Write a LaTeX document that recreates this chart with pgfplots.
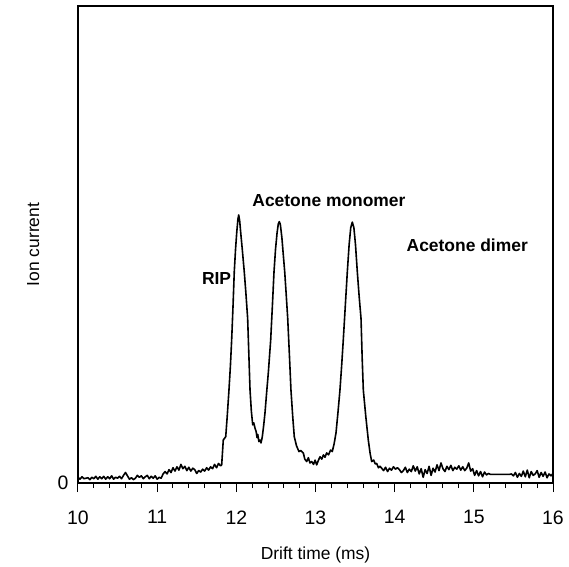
\documentclass[border=0pt]{standalone}
\usepackage{fontspec}
\setmainfont{Liberation Sans}
\usepackage{pgfplots}
\pgfplotsset{compat=1.18}
\begin{document}
\begin{tikzpicture}
\useasboundingbox (-78bp,-84bp) rectangle (491bp,483bp);
\begin{axis}[
  at={(0,0)}, anchor=south west,
  scale only axis, width=475bp, height=477bp,
  xmin=10, xmax=16, ymin=0, ymax=100,
  xtick={10,11,12,13,14,15,16},
  minor x tick num=4,
  ytick={0},
  xtick pos=bottom, ytick pos=left,
  tick align=outside,
  major tick length=9bp, minor tick length=5bp,
  x tick style={black, line width=1bp},
  y tick style={draw=none},
  axis line style={line width=1.1bp},
  /pgf/number format/assume math mode=true,
  tick label style={font=\fontsize{19.5}{22}\selectfont},
  yticklabel style={xshift=3bp},
  xticklabel style={yshift=-15bp},
  xlabel={Drift time (ms)},
  ylabel={Ion current},
  label style={font=\fontsize{17.5}{20}\selectfont},
  xlabel style={at={(axis description cs:0.5,-0.151)}, anchor=center},
  ylabel style={at={(axis description cs:-0.0945,0.5)}, anchor=center, rotate=0},
  clip=false,
]
\addplot[black, line width=1.6bp, line join=round] coordinates {
(10.000,1.2)(10.025,0.8)(10.050,1.3)(10.075,0.9)(10.100,1.0)(10.125,1.1)(10.150,0.7)(10.175,1.2)
(10.200,0.9)(10.225,1.4)(10.250,0.8)(10.275,1.3)(10.300,0.9)(10.325,1.4)(10.350,0.8)(10.375,1.3)
(10.400,0.9)(10.425,1.5)(10.450,0.8)(10.475,1.2)(10.500,1.0)(10.525,1.4)(10.550,0.9)(10.575,1.6)
(10.600,2.2)(10.625,1.5)(10.650,0.8)(10.675,1.1)(10.700,0.7)(10.725,1.0)(10.750,1.6)(10.775,1.2)
(10.800,1.5)(10.825,0.9)(10.850,1.3)(10.875,1.6)(10.900,0.9)(10.925,1.4)(10.950,1.0)(10.975,1.5)
(11.000,0.8)(11.025,1.2)(11.050,1.0)(11.075,1.9)(11.100,2.4)(11.125,1.9)(11.150,2.8)(11.175,2.2)
(11.200,3.2)(11.225,2.5)(11.250,3.4)(11.275,2.7)(11.300,3.9)(11.325,3.0)(11.350,3.5)(11.375,2.6)
(11.400,3.3)(11.425,2.5)(11.450,3.1)(11.475,2.8)(11.500,2.0)(11.525,2.6)(11.550,2.3)(11.575,2.9)
(11.600,2.5)(11.625,3.2)(11.650,2.7)(11.675,3.4)(11.700,3.0)(11.725,3.9)(11.750,3.2)(11.775,4.1)
(11.800,3.6)(11.815,3.8)
(11.835,9.0)(11.866,9.7)(11.885,14)(11.907,19.5)(11.925,24.5)(11.941,30.0)(11.958,37)(11.974,44.3)
(11.990,49)(12.005,52.5)(12.020,55.3)(12.030,56.2)(12.042,55)(12.058,52)(12.075,49)(12.100,44.3)
(12.120,40)(12.143,34.5)(12.158,27)(12.173,19.5)(12.190,15)(12.207,12.2)(12.220,12.6)(12.236,11.5)
(12.250,10.8)(12.262,9.5)(12.270,10.2)(12.285,8.7)(12.299,9.0)(12.312,8.4)(12.328,9.7)(12.345,12)
(12.362,14.7)(12.383,19)(12.404,23.1)(12.434,30.0)(12.455,37)(12.476,44.3)(12.495,49)(12.515,52.5)
(12.530,54.3)(12.543,54.8)(12.556,54.2)(12.575,51.5)(12.595,47.5)(12.611,44.3)(12.630,39.5)(12.649,34.5)
(12.670,27)(12.690,19.5)(12.712,14)(12.732,9.7)(12.760,7.8)(12.791,6.6)(12.815,6.8)(12.846,6.3)
(12.865,5.0)(12.889,4.5)(12.910,5.3)(12.930,4.2)(12.952,4.5)(12.975,3.9)(12.995,4.8)(13.015,3.8)
(13.035,4.7)(13.057,5.5)(13.080,5.0)(13.100,5.9)(13.120,5.4)(13.141,6.3)(13.165,5.9)(13.190,6.9)
(13.212,6.6)(13.235,8.2)(13.259,10.5)(13.285,15)(13.309,19.5)(13.330,24.5)(13.351,30.0)(13.376,37)
(13.402,44.3)(13.425,50)(13.445,53.5)(13.465,54.7)(13.485,53.5)(13.505,50)(13.528,44.3)(13.552,39)
(13.575,34.5)(13.590,26)(13.604,19.5)(13.635,14)(13.667,9.0)(13.690,6.2)(13.710,4.5)(13.735,4.8)
(13.755,4.0)(13.773,4.1)(13.795,3.2)(13.815,3.5)(13.836,3.1)
(13.860,2.6)(13.885,3.3)(13.910,2.4)(13.935,3.1)(13.960,2.7)(13.985,3.4)(14.010,2.9)(14.035,3.2)
(14.060,2.8)(14.085,2.2)(14.110,2.6)(14.135,3.3)(14.160,2.2)(14.185,2.9)(14.210,2.4)(14.235,3.6)
(14.260,2.5)(14.285,3.4)(14.310,1.9)(14.335,3.0)(14.360,1.2)(14.385,2.8)(14.410,2.0)(14.435,3.5)
(14.460,1.6)(14.485,3.1)(14.510,2.3)(14.535,3.8)(14.560,2.6)(14.585,4.2)(14.610,3.0)(14.635,2.4)
(14.660,3.5)(14.685,2.8)(14.710,3.7)(14.735,2.6)(14.760,3.3)(14.785,2.9)(14.810,3.6)(14.835,2.7)
(14.860,3.4)(14.885,2.6)(14.910,3.1)(14.935,4.2)(14.960,2.5)(14.985,3.0)(15.010,1.6)(15.035,2.6)
(15.060,1.5)(15.085,2.4)(15.110,1.3)(15.135,2.3)(15.160,1.7)(15.185,2.0)(15.210,1.8)(15.300,1.8)
(15.400,1.8)(15.450,1.8)(15.475,1.9)(15.500,1.5)(15.525,2.2)(15.550,1.2)(15.575,2.0)(15.600,1.4)
(15.625,2.5)(15.650,1.3)(15.675,2.7)(15.700,1.1)(15.725,2.4)(15.750,1.6)(15.775,1.9)(15.800,2.6)
(15.825,1.2)(15.850,2.2)(15.875,1.4)(15.900,2.3)(15.925,1.1)(15.950,1.9)(15.975,1.5)(16.000,2.0)
};
\node[font=\bfseries\fontsize{17.5}{20}\selectfont] at (axis cs:11.75,42.8) {RIP};
\node[font=\bfseries\fontsize{17.5}{20}\selectfont] at (axis cs:13.17,59.2) {Acetone monomer};
\node[font=\bfseries\fontsize{17.5}{20}\selectfont] at (axis cs:14.917,49.9) {Acetone dimer};
\end{axis}
\end{tikzpicture}
\end{document}
